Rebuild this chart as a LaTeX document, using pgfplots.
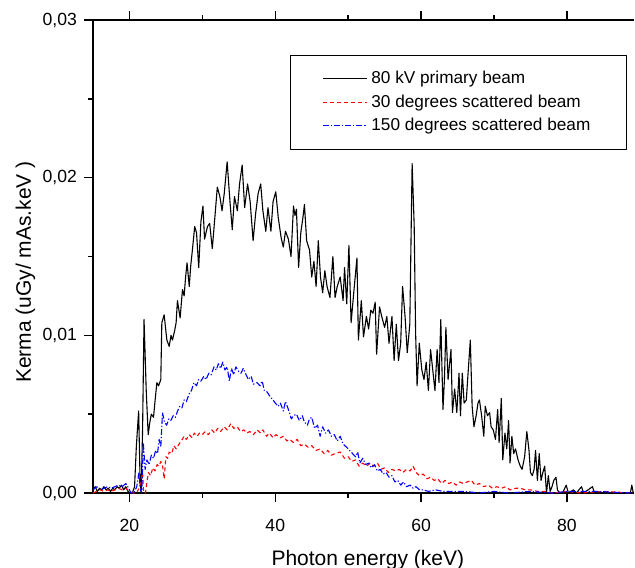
\documentclass[border=0pt]{standalone}
\usepackage{fontspec}
\setmainfont{Liberation Sans}
\usepackage{pgfplots}
\usepackage{pgfplotstable}
\pgfplotsset{compat=1.18}

% 80 kV primary beam
\pgfplotstableread{
x y
15.0 0.0002
15.3 0.0004
15.6 0.0001
15.9 0.0003
16.2 0.0002
16.5 0.0004
16.8 0.0002
17.1 0.0003
17.4 0.0001
17.7 0.0003
18.0 0.0002
18.3 0.0004
18.6 0.0003
18.9 0.0005
19.2 0.0002
19.5 0.0004
19.8 0.0001
20.1 0.0000
20.4 0.0000
20.7 0.0004
20.95 0.0030
21.26 0.0052
21.45 0.0010
21.6 0.0000
21.8 0.0040
22.0 0.0110
22.3 0.0065
22.57 0.0037
22.8 0.0045
23.0 0.0050
23.3 0.0048
23.5 0.0058
23.76 0.0070
24.0 0.0068
24.3 0.0072
24.44 0.0108
24.76 0.0113
25.13 0.0097
25.45 0.0093
25.7 0.0100
25.9 0.0097
26.2 0.0103
26.4 0.0108
26.58 0.0122
26.95 0.0111
27.27 0.0129
27.5 0.0125
27.7 0.0137
27.9 0.0146
28.2 0.0131
28.4 0.0144
28.63 0.0154
28.95 0.0169
29.2 0.0165
29.5 0.0143
29.8 0.0172
30.08 0.0182
30.3 0.0161
30.7 0.0169
31.0 0.0171
31.36 0.0155
31.7 0.0174
32.05 0.0194
32.4 0.0188
32.7 0.0179
33.0 0.0190
33.4 0.0210
33.8 0.0184
34.1 0.0167
34.4 0.0188
34.8 0.0179
35.1 0.0196
35.46 0.0208
35.8 0.0181
36.2 0.0196
36.55 0.0185
36.96 0.0160
37.3 0.0177
37.65 0.0190
38.0 0.0196
38.3 0.0179
38.7 0.0166
39.0 0.0181
39.4 0.0166
39.7 0.0185
40.07 0.0191
40.4 0.0175
40.8 0.0162
41.1 0.0156
41.4 0.0166
41.8 0.0161
42.16 0.0150
42.5 0.0182
42.7 0.0176
42.9 0.0180
43.2 0.0143
43.5 0.0165
43.8 0.0175
44.0 0.0183
44.3 0.0160
44.7 0.0154
45.0 0.0137
45.3 0.0147
45.6 0.0131
45.9 0.0160
46.2 0.0137
46.5 0.0127
46.8 0.0141
47.1 0.0131
47.5 0.0124
47.9 0.0150
48.2 0.0124
48.5 0.0131
48.9 0.0137
49.3 0.0122
49.5 0.0143
49.8 0.0120
50.1 0.0157
50.4 0.0108
50.8 0.0129
51.2 0.0149
51.4 0.0097
51.8 0.0122
52.1 0.0099
52.5 0.0112
52.8 0.0104
53.1 0.0116
53.4 0.0114
53.7 0.0121
53.9 0.0088
54.3 0.0118
54.6 0.0112
55.0 0.0105
55.3 0.0112
55.6 0.0095
56.0 0.0112
56.3 0.0084
56.6 0.0107
56.9 0.0084
57.2 0.0095
57.46 0.0131
57.8 0.0112
58.1 0.0089
58.45 0.0107
58.77 0.0209
59.05 0.0170
59.25 0.0101
59.45 0.0068
59.75 0.0095
60.1 0.0078
60.4 0.0072
60.7 0.0083
61.0 0.0065
61.3 0.0091
61.6 0.0078
61.9 0.0065
62.2 0.0091
62.45 0.0070
62.7 0.0110
63.0 0.0053
63.2 0.0072
63.4 0.0105
63.7 0.0072
64.1 0.0091
64.3 0.0051
64.6 0.0066
64.9 0.0051
65.2 0.0076
65.4 0.0049
65.65 0.0076
65.9 0.0057
66.2 0.0059
66.5 0.0080
66.75 0.0097
67.0 0.0055
67.25 0.0042
67.55 0.0049
67.8 0.0057
68.0 0.0059
68.3 0.0049
68.6 0.0036
68.8 0.0055
69.1 0.0049
69.4 0.0051
69.6 0.0042
69.9 0.0040
70.2 0.0034
70.5 0.0053
70.7 0.0032
71.0 0.0060
71.2 0.0021
71.5 0.0038
71.75 0.0028
72.0 0.0046
72.2 0.0019
72.45 0.0036
72.7 0.0025
72.95 0.0028
73.3 0.0021
73.6 0.0017
73.85 0.0015
74.2 0.0023
74.5 0.0039
74.8 0.0027
75.0 0.0013
75.25 0.0011
75.5 0.0015
75.7 0.0027
75.95 0.0008
76.2 0.0025
76.45 0.0008
76.7 0.0013
76.95 0.0017
77.2 0.0000
77.45 0.0011
77.7 0.0001
77.95 0.0004
78.2 0.0008
78.5 0.0010
78.7 0.0002
79.0 0.0000
79.4 0.0000
79.9 0.0005
80.2 0.0000
80.9 0.0002
81.3 0.0000
82.0 0.0004
82.3 0.0000
83.5 0.0004
83.8 0.0000
85.0 0.0000
87.0 0.0000
88.7 0.0000
88.9 0.0005
89.1 0.0000
}\primary

% 30 degrees scattered beam
\pgfplotstableread{
x y
15.0 0.0000
15.5 0.0001
16.0 0.0002
16.5 0.0001
17.0 0.0002
17.5 0.0001
18.0 0.0002
18.5 0.0003
19.0 0.0002
19.5 0.0003
20.0 0.0001
20.5 0.0000
21.0 0.0000
21.4 0.0004
21.8 0.0013
21.95 0.0000
22.2 0.0000
22.4 0.0007
22.6 0.0013
22.9 0.0011
23.2 0.0016
23.5 0.0014
23.8 0.0018
24.05 0.0017
24.3 0.0020
24.55 0.0017
24.76 0.0009
25.0 0.0023
25.25 0.0022
25.45 0.0026
25.8 0.0025
26.1 0.0030
26.4 0.0028
26.8 0.0031
27.1 0.0033
27.5 0.0036
27.8 0.0034
28.2 0.0037
28.6 0.0035
28.9 0.0038
29.3 0.0036
29.6 0.0038
30.0 0.0037
30.4 0.0039
30.8 0.0037
31.3 0.0040
31.7 0.0038
32.1 0.0041
32.5 0.0039
33.0 0.0042
33.4 0.0040
33.9 0.0044
34.3 0.0041
34.8 0.0042
35.2 0.0039
35.7 0.0040
36.1 0.0038
36.5 0.0039
37.0 0.0037
37.5 0.0040
38.0 0.0038
38.3 0.0040
38.8 0.0036
39.2 0.0038
39.7 0.0035
40.1 0.0037
40.7 0.0035
41.1 0.0036
41.6 0.0033
42.0 0.0034
42.5 0.0032
43.0 0.0034
43.5 0.0030
44.0 0.0031
44.5 0.0029
45.0 0.0030
45.6 0.0027
46.15 0.0028
46.7 0.0025
47.2 0.0027
47.7 0.0024
48.2 0.0025
48.9 0.0026
49.5 0.0022
50.0 0.0023
50.5 0.0020
51.0 0.0021
51.5 0.0017
52.0 0.0019
52.5 0.0017
53.0 0.0019
53.5 0.0017
54.0 0.0019
54.5 0.0015
55.0 0.0016
55.5 0.0013
56.0 0.0015
56.5 0.0014
57.0 0.0015
57.5 0.0013
58.0 0.0015
58.5 0.0014
58.9 0.0017
59.3 0.0013
59.8 0.0011
60.3 0.0012
60.8 0.0009
61.3 0.0010
61.8 0.0008
62.3 0.0009
62.8 0.0006
63.3 0.0008
63.8 0.0006
64.3 0.0007
64.8 0.0005
65.3 0.0007
65.8 0.0006
66.3 0.0007
66.9 0.0008
67.4 0.0005
68.0 0.0006
68.6 0.0004
69.2 0.0005
69.8 0.0003
70.4 0.0004
71.0 0.0003
71.6 0.0004
72.2 0.0002
73.0 0.0003
73.6 0.0003
74.3 0.0002
75.0 0.0002
76.0 0.0001
77.0 0.0001
78.0 0.0000
80.0 0.0001
82.0 0.0000
85.0 0.0001
89.0 0.0000
}\scatterthirty

% 150 degrees scattered beam
\pgfplotstableread{
x y
15.0 0.0002
15.5 0.0004
16.0 0.0002
16.5 0.0003
17.0 0.0004
17.5 0.0003
18.0 0.0004
18.5 0.0005
19.0 0.0004
19.5 0.0006
19.9 0.0003
20.2 0.0000
20.6 0.0000
21.0 0.0004
21.3 0.0013
21.5 0.0002
21.7 0.0000
21.9 0.0032
22.15 0.0015
22.4 0.0021
22.7 0.0018
23.0 0.0024
23.3 0.0022
23.6 0.0027
23.85 0.0025
24.07 0.0034
24.3 0.0029
24.53 0.0051
24.8 0.0045
25.1 0.0043
25.4 0.0047
25.67 0.0046
26.0 0.0049
26.3 0.0048
26.6 0.0052
26.9 0.0055
27.2 0.0054
27.5 0.0059
27.8 0.0058
28.2 0.0063
28.5 0.0065
28.85 0.0070
29.2 0.0068
29.5 0.0072
29.8 0.0071
30.2 0.0074
30.5 0.0072
30.9 0.0076
31.2 0.0075
31.6 0.0080
31.9 0.0078
32.2 0.0082
32.5 0.0079
32.8 0.0083
33.1 0.0078
33.4 0.0080
33.7 0.0071
34.0 0.0079
34.3 0.0075
34.6 0.0080
35.0 0.0077
35.3 0.0076
35.6 0.0079
36.0 0.0075
36.3 0.0072
36.7 0.0074
37.0 0.0069
37.5 0.0070
37.9 0.0068
38.2 0.0071
38.5 0.0065
38.9 0.0064
39.3 0.0061
39.7 0.0059
40.0 0.0057
40.4 0.0055
40.7 0.0057
41.1 0.0052
41.4 0.0058
41.8 0.0053
42.2 0.0047
42.5 0.0049
42.9 0.0050
43.3 0.0046
43.7 0.0049
44.0 0.0045
44.4 0.0043
44.7 0.0047
45.0 0.0048
45.4 0.0041
45.8 0.0043
46.15 0.0036
46.5 0.0042
46.9 0.0038
47.3 0.0040
47.7 0.0036
48.1 0.0037
48.5 0.0033
48.9 0.0036
49.3 0.0031
49.8 0.0029
50.2 0.0027
50.6 0.0025
51.0 0.0023
51.3 0.0026
51.6 0.0019
52.0 0.0022
52.4 0.0018
52.8 0.0019
53.2 0.0016
53.6 0.0018
54.0 0.0014
54.4 0.0015
54.8 0.0012
55.2 0.0013
55.6 0.0010
56.0 0.0011
56.4 0.0007
56.8 0.0008
57.2 0.0005
57.6 0.0007
58.0 0.0004
58.5 0.0005
58.9 0.0003
59.3 0.0004
59.8 0.0002
60.3 0.0002
61.0 0.0001
62.0 0.0002
63.0 0.0001
64.0 0.0001
66.0 0.0001
68.0 0.0000
70.0 0.0001
72.0 0.0000
75.0 0.0001
78.0 0.0000
80.0 0.0001
84.0 0.0001
89.0 0.0000
}\scatteronefifty

\begin{document}
\begin{tikzpicture}
\begin{axis}[
  at={(0,0)}, anchor=south west,
  scale only axis, width=270.5pt, height=236.5pt,
  xmin=15, xmax=89.2, ymin=0, ymax=0.03,
  axis x line*=box, axis y line*=left,
  axis line style={line width=0.8pt},
  tick align=outside,
  major tick length=4.5pt, minor tick length=2.5pt,
  every tick/.style={black, line width=0.7pt},
  xtick={20,40,60,80}, minor x tick num=1,
  ytick={0,0.01,0.02,0.03}, minor y tick num=1,
  scaled y ticks=false,
  yticklabel style={/pgf/number format/.cd, fixed, fixed zerofill, precision=2, use comma},
  xticklabel style={yshift=-5pt},
  tick label style={font=\fontsize{8.8}{10}\selectfont},
  /pgf/number format/assume math mode=true,
  xlabel={Photon energy (keV)},
  ylabel={Kerma (uGy/ mAs.keV )},
  label style={font=\fontsize{10.5}{12}\selectfont},
  xlabel style={at={(axis description cs:0.508,-0.1522)}, anchor=base},
  ylabel style={at={(axis description cs:-0.1248,0.467)}, anchor=center},
  legend cell align=left,
  legend style={at={(1,1)}, anchor=north east, xshift=-3.5pt, yshift=-17.5pt,
    draw=black, line width=0.6pt, font=\fontsize{8.6}{10}\selectfont,
    inner xsep=16pt, inner ysep=5.8pt, row sep=0pt},
  legend image code/.code={\draw[#1] (0pt,0pt) -- (22pt,0pt);},
  line join=round,
]
\addplot[black, line width=0.55pt] table {\primary};
\addlegendentry{80 kV primary beam}
\addplot[red, line width=0.55pt, dash pattern=on 2pt off 1.5pt] table {\scatterthirty};
\addlegendentry{30 degrees scattered beam}
\addplot[blue, line width=0.55pt, dash pattern=on 3pt off 1pt on 0.6pt off 1pt] table {\scatteronefifty};
\addlegendentry{150 degrees scattered beam}
\end{axis}
\pgfresetboundingbox
\useasboundingbox (-46.5pt,-37pt) rectangle (271pt,246.5pt);
\end{tikzpicture}
\end{document}
